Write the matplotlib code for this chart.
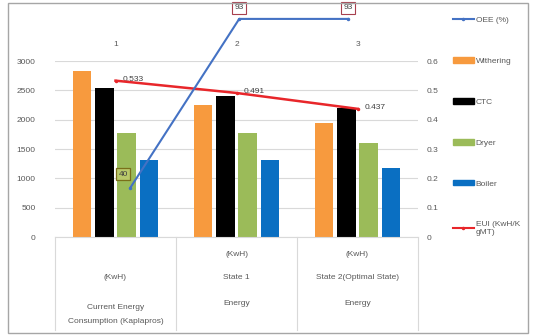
import numpy as np
import matplotlib
matplotlib.use("Agg")
import matplotlib.pyplot as plt
from matplotlib.lines import Line2D
from matplotlib.patches import Patch, Rectangle

plt.rcParams["font.family"] = ["Liberation Sans", "DejaVu Sans"]

# energy by process (KwH) for each state
categories = ["Current Energy\nConsumption (Kaplapros)", "State 1\nEnergy", "State 2(Optimal State)\nEnergy"]
withering = [2830, 2250, 1940]
ctc = [2540, 2400, 2200]
dryer = [1770, 1770, 1600]
boiler = [1320, 1320, 1170]
eui = [0.533, 0.491, 0.437]
eui_labels = ["0.533", "0.491", "0.437"]
oee = [40, 93, 93]
oee_x = [1, 2, 3]
top_ticks = ["1", "2", "3"]

TXT = "#595959"
W, H = 535, 336

fig = plt.figure(figsize=(W / 100, H / 100), dpi=100)
fig.patch.set_facecolor("white")
fig.patches.append(Rectangle((8 / W, 3 / H), 520 / W, 330 / H, transform=fig.transFigure,
                             fill=False, edgecolor="#a6a6a6", linewidth=1))

ax = fig.add_axes([55 / W, 1 - 237 / H, 363 / W, 176 / H])
x = np.arange(len(categories))
series = [("Withering", withering, "#f79a3e"), ("CTC", ctc, "#000000"),
          ("Dryer", dryer, "#9bbb59"), ("Boiler", boiler, "#0a6fc2")]
step, width = 0.183, 0.15
for i, (name, vals, color) in enumerate(series):
    ax.bar(x + (i - 1.5) * step, vals, width, color=color, zorder=2)

ax.set_xlim(-0.5, 2.5)
ax.set_ylim(0, 3000)
ax.set_yticks(range(0, 3001, 500))
ax.set_yticklabels([str(v) for v in range(0, 3001, 500)])
ax.grid(axis="y", color="#d9d9d9", linewidth=0.8, zorder=0)
for s in ["top", "right", "left"]:
    ax.spines[s].set_visible(False)
ax.spines["bottom"].set_color("#d9d9d9")
ax.tick_params(axis="y", length=0, labelsize=6, labelcolor=TXT, pad=14)
ax.set_xticks([])

# multi-level category labels under the plot
for b in [-0.5, 0.5, 1.5, 2.5]:
    ax.plot([b, b], [0, -0.53], transform=ax.get_xaxis_transform(), color="#d9d9d9",
            linewidth=0.8, clip_on=False)
for xi, cat in zip(x, categories):
    main, sub = cat.split("\n")
    if xi == 0:
        rows = [(-0.23, "(KwH)"), (-0.40, main), (-0.48, sub)]
    else:
        rows = [(-0.10, "(KwH)"), (-0.23, main), (-0.38, sub)]
    for yy, txt in rows:
        ax.text(xi, yy, txt, transform=ax.get_xaxis_transform(), ha="center", va="center",
                fontsize=6, color=TXT)

top = ax.secondary_xaxis("top")
top.set_xticks(x)
top.set_xticklabels(top_ticks)
top.tick_params(length=0, labelsize=6, labelcolor=TXT, pad=9)
top.spines["top"].set_visible(False)

# EUI on the right axis
ax2 = ax.twinx()
ax2.set_ylim(0, 0.6)
ax2.set_yticks(np.arange(0, 0.61, 0.1))
ax2.set_yticklabels(["0", "0.1", "0.2", "0.3", "0.4", "0.5", "0.6"])
ax2.tick_params(axis="y", length=0, labelsize=6, labelcolor=TXT, pad=6)
for s in ax2.spines.values():
    s.set_visible(False)
ax2.plot(x, eui, color="#e8262a", linewidth=1.8, marker=".", markersize=3, zorder=4)
for xi, v, lab in zip(x, eui, eui_labels):
    ax2.annotate(lab, (xi, v), xytext=(5, 1), textcoords="offset points", ha="left", va="center",
                 fontsize=6, color="#404040")

# OEE line on its own hidden scale
ax3 = fig.add_axes(ax.get_position(), frameon=False)
ax3.set_xlim(0.31, 3.64)
ax3.set_ylim(24.6, 79.8)
ax3.axis("off")
ax3.plot(oee_x, oee, color="#4472c4", linewidth=1.5, marker=".", markersize=3, clip_on=False, zorder=5)
ax3.annotate(str(oee[0]), (oee_x[0], oee[0]), xytext=(-5, 10), textcoords="offset points",
             ha="center", va="center", fontsize=6, color="#404040", zorder=6,
             bbox=dict(boxstyle="square,pad=0.3", fc="#b9c96a", ec="#7a6f1a", lw=0.9),
             annotation_clip=False)
for xo, v in zip(oee_x[1:], oee[1:]):
    ax3.annotate(str(v), (xo, v), xytext=(0, 8), textcoords="offset points",
                 ha="center", va="center", fontsize=6, color="#404040", zorder=6,
                 bbox=dict(boxstyle="square,pad=0.3", fc="white", ec="#a8404e", lw=0.8),
                 annotation_clip=False)

handles = [Line2D([], [], color="#4472c4", linewidth=1.5, marker=".", markersize=3, label="OEE (%)")]
handles += [Patch(color=c, label=n) for n, _, c in series]
handles.append(Line2D([], [], color="#e8262a", linewidth=1.5, marker=".", markersize=3, label="EUI (KwH/K\ngMT)"))
fig.legend(handles=handles, loc="upper left", bbox_to_anchor=(445 / W, 1 - 9 / H), frameon=False,
           fontsize=6, labelcolor=TXT, handlelength=2.6, handleheight=0.6, handletextpad=0.2,
           labelspacing=4.0)

fig.savefig("out.png", dpi=100)
